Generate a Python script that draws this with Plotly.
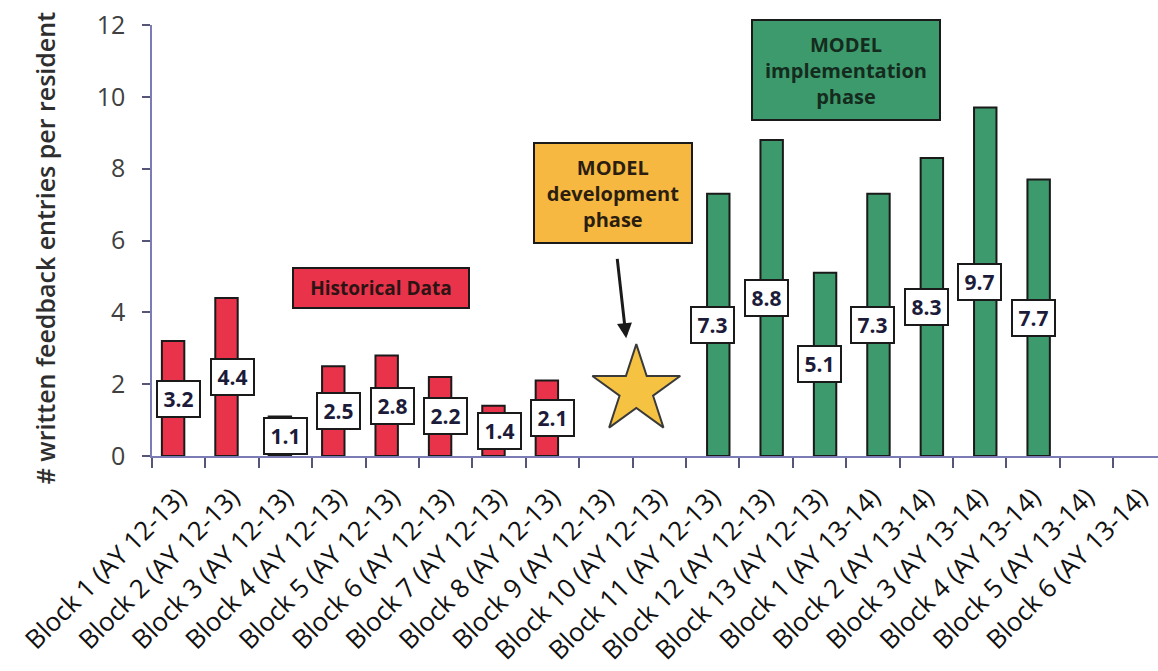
import plotly.graph_objects as go

# Block labels along the x axis (AY 12-13 then AY 13-14)
categories = [
    "Block 1 (AY 12-13)", "Block 2 (AY 12-13)", "Block 3 (AY 12-13)",
    "Block 4 (AY 12-13)", "Block 5 (AY 12-13)", "Block 6 (AY 12-13)",
    "Block 7 (AY 12-13)", "Block 8 (AY 12-13)", "Block 9 (AY 12-13)",
    "Block 10 (AY 12-13)", "Block 11 (AY 12-13)", "Block 12 (AY 12-13)",
    "Block 13 (AY 12-13)", "Block 1 (AY 13-14)", "Block 2 (AY 13-14)",
    "Block 3 (AY 13-14)", "Block 4 (AY 13-14)", "Block 5 (AY 13-14)",
    "Block 6 (AY 13-14)",
]

# Written feedback entries per resident
historical = [3.2, 4.4, 1.1, 2.5, 2.8, 2.2, 1.4, 2.1,
              None, None, None, None, None, None, None, None, None, None, None]
implementation = [None, None, None, None, None, None, None, None, None, None,
                  7.3, 8.8, 5.1, 7.3, 8.3, 9.7, 7.7, None, None]

y_ticks = [0, 2, 4, 6, 8, 10, 12]
y_title = "# written feedback entries per resident"

RED = "#E8334A"
GREEN = "#3D9A6C"
GOLD = "#F6B840"
STAR = "#F5C242"
EDGE = "#1A1A1A"
AXIS = "#7B7BB5"
FONT = "Open Sans"

idx = list(range(len(categories)))

fig = go.Figure()
for vals, color in [(historical, RED), (implementation, GREEN)]:
    fig.add_trace(go.Bar(
        x=idx, y=vals, marker=dict(color=color, line=dict(color=EDGE, width=2)),
        width=0.42, showlegend=False, hoverinfo="skip",
    ))

# Star marking the development phase
fig.add_trace(go.Scatter(
    x=[8.57], y=[1.83], mode="markers", showlegend=False, hoverinfo="skip",
    marker=dict(symbol="star", size=66, color=STAR, line=dict(color="#3A3A3A", width=2)),
))

annotations = []
# Value boxes in the middle of each bar
for vals in (historical, implementation):
    for i, v in zip(idx, vals):
        if v is None:
            continue
        annotations.append(dict(
            x=i, y=v / 2, xref="x", yref="y", text=f"<b>{v:.1f}</b>",
            showarrow=False, bgcolor="white", bordercolor=EDGE, borderwidth=2,
            borderpad=2, width=37, height=30,
            font=dict(family=FONT, size=21, color="#1C1C3A"),
        ))

# Phase callouts
annotations += [
    dict(x=3.79, y=4.67, xref="x", yref="y", text="<b>Historical Data</b>",
         showarrow=False, bgcolor=RED, bordercolor=EDGE, borderwidth=2,
         width=172, height=36, font=dict(family=FONT, size=19, color="#2B1414")),
    dict(x=8.13, y=7.33, xref="x", yref="y",
         text="<b>MODEL<br>development<br>phase</b>",
         showarrow=False, bgcolor=GOLD, bordercolor=EDGE, borderwidth=2,
         width=154, height=96, font=dict(family=FONT, size=20, color="#2B1E10")),
    dict(x=12.5, y=10.75, xref="x", yref="y",
         text="<b>MODEL<br>implementation<br>phase</b>",
         showarrow=False, bgcolor=GREEN, bordercolor=EDGE, borderwidth=2,
         width=184, height=96, font=dict(family=FONT, size=20, color="#142B1E")),
    dict(x=8.38, y=3.28, ax=8.21, ay=5.53, xref="x", yref="y",
         axref="x", ayref="y", text="", showarrow=True,
         arrowhead=2, arrowsize=1, arrowwidth=3, arrowcolor="#1A1A1A"),
    # y-axis title
    dict(x=-0.1064, y=0.484, xref="paper", yref="paper", text=y_title,
         textangle=-90, showarrow=False, xanchor="center", yanchor="middle",
         font=dict(family=FONT, size=25, weight=600, color="#2E2E2E")),
]

fig.update_layout(
    width=1158, height=671,
    margin=dict(l=152, r=0, t=25, b=215),
    paper_bgcolor="white", plot_bgcolor="white",
    bargap=0.58,
    font=dict(family=FONT, color="#333333"),
    annotations=annotations,
    xaxis=dict(
        range=[-0.5, 18.34], tickmode="array", tickvals=idx, ticktext=categories,
        tickangle=-45, ticks="", showgrid=False, zeroline=False,
        showline=True, linecolor=AXIS, linewidth=1.5,
        tickfont=dict(family=FONT, size=26, color="#111111"),
        ticklabelstandoff=14,
        minor=dict(tickmode="array", tickvals=[i - 0.5 for i in range(len(categories) + 1)],
                   ticks="outside", ticklen=10, tickwidth=1.5, tickcolor="#555577"),
        automargin=False,
    ),
    yaxis=dict(
        range=[0, 12], tickmode="array", tickvals=y_ticks,
        ticks="outside", ticklen=8, tickwidth=1.5, tickcolor="#555577",
        showline=True, linecolor=AXIS, linewidth=1.5,
        showgrid=False, zeroline=False,
        tickfont=dict(family=FONT, size=25, color="#404040"),
        ticklabelstandoff=12,
        automargin=False,
    ),
)

fig.write_html("out.html")
